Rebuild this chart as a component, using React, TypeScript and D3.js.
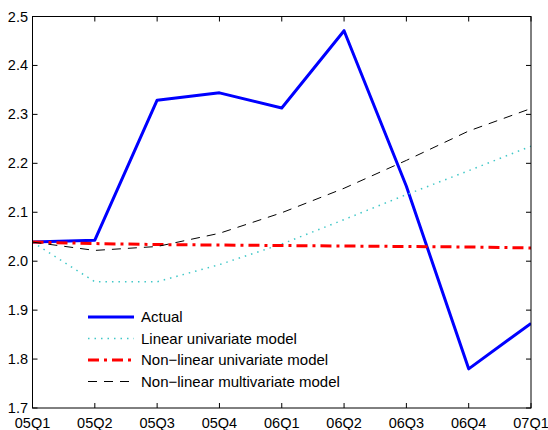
import React from 'react';
import * as d3 from 'd3';

const quarters = ['05Q1', '05Q2', '05Q3', '05Q4', '06Q1', '06Q2', '06Q3', '06Q4', '07Q1'];
const actual = [2.039, 2.043, 2.329, 2.344, 2.313, 2.471, 2.153, 1.78, 1.873];
const linearUni = [2.039, 1.958, 1.958, 1.993, 2.035, 2.085, 2.136, 2.185, 2.235];
const nonLinUni = [2.039, 2.036, 2.034, 2.033, 2.032, 2.031, 2.03, 2.029, 2.027];
const nonLinMulti = [2.039, 2.022, 2.03, 2.057, 2.099, 2.149, 2.206, 2.266, 2.312];
const yTicks = [1.7, 1.8, 1.9, 2, 2.1, 2.2, 2.3, 2.4, 2.5];

const series = [
  { name: 'Actual', values: actual, color: '#0000ff', width: 3, dash: '' },
  { name: 'Linear univariate model', values: linearUni, color: '#40c8c8', width: 1.5, dash: '1.5,5' },
  { name: 'Non\u2212linear univariate model', values: nonLinUni, color: '#ff0000', width: 3, dash: '11,5,3,5' },
  { name: 'Non\u2212linear multivariate model', values: nonLinMulti, color: '#000000', width: 1, dash: '9,7' },
];

export default function App(): React.ReactElement {
  const width = 548;
  const height = 430;
  const m = { left: 32.5, right: 17, top: 16.5, bottom: 22 };
  const x = d3.scalePoint<string>().domain(quarters).range([m.left, width - m.right]);
  const y = d3.scaleLinear().domain([1.7, 2.5]).range([height - m.bottom, m.top]);
  const line = d3.line<number>()
    .x((_, i) => x(quarters[i]) as number)
    .y((d) => y(d));
  const x0 = m.left;
  const x1 = width - m.right;
  const y0 = height - m.bottom;
  const y1 = m.top;
  const tick = 5;
  const font = 'Liberation Sans, Arial, sans-serif';

  return (
    <svg width={width} height={height} style={{ position: 'absolute', left: 0, top: 0 }}>
      <rect x={0} y={0} width={width} height={height} fill="#fff" />
      <defs>
        <clipPath id="plot">
          <rect x={x0} y={y1} width={x1 - x0} height={y0 - y1} />
        </clipPath>
      </defs>
      <g clipPath="url(#plot)">
        {series.map((s) => (
          <path
            key={s.name}
            d={line(s.values) || ''}
            fill="none"
            stroke={s.color}
            strokeWidth={s.width}
            strokeDasharray={s.dash || undefined}
            strokeLinejoin="round"
          />
        ))}
      </g>
      <rect x={x0} y={y1} width={x1 - x0} height={y0 - y1} fill="none" stroke="#000" strokeWidth={1} />
      {quarters.map((q) => {
        const px = x(q) as number;
        return (
          <g key={q}>
            <line x1={px} x2={px} y1={y0} y2={y0 - tick} stroke="#000" />
            <line x1={px} x2={px} y1={y1} y2={y1 + tick} stroke="#000" />
            <text x={px} y={y0 + 19.5} textAnchor="middle" fontFamily={font} fontSize={14.5} fill="#000">{q}</text>
          </g>
        );
      })}
      {yTicks.map((t) => {
        const py = y(t);
        return (
          <g key={t}>
            <line x1={x0} x2={x0 + tick} y1={py} y2={py} stroke="#000" />
            <line x1={x1} x2={x1 - tick} y1={py} y2={py} stroke="#000" />
            <text x={x0 - 4.5} y={py + 5} textAnchor="end" fontFamily={font} fontSize={14.5} fill="#000">{d3.format('.1f')(t)}</text>
          </g>
        );
      })}
      {series.map((s, i) => {
        const ly = 317 + i * 21.5;
        return (
          <g key={s.name}>
            <line x1={88} x2={134} y1={ly} y2={ly} stroke={s.color} strokeWidth={s.width} strokeDasharray={s.dash || undefined} />
            <text x={141} y={ly + 5} fontFamily={font} fontSize={15} fill="#000">{s.name}</text>
          </g>
        );
      })}
    </svg>
  );
}
